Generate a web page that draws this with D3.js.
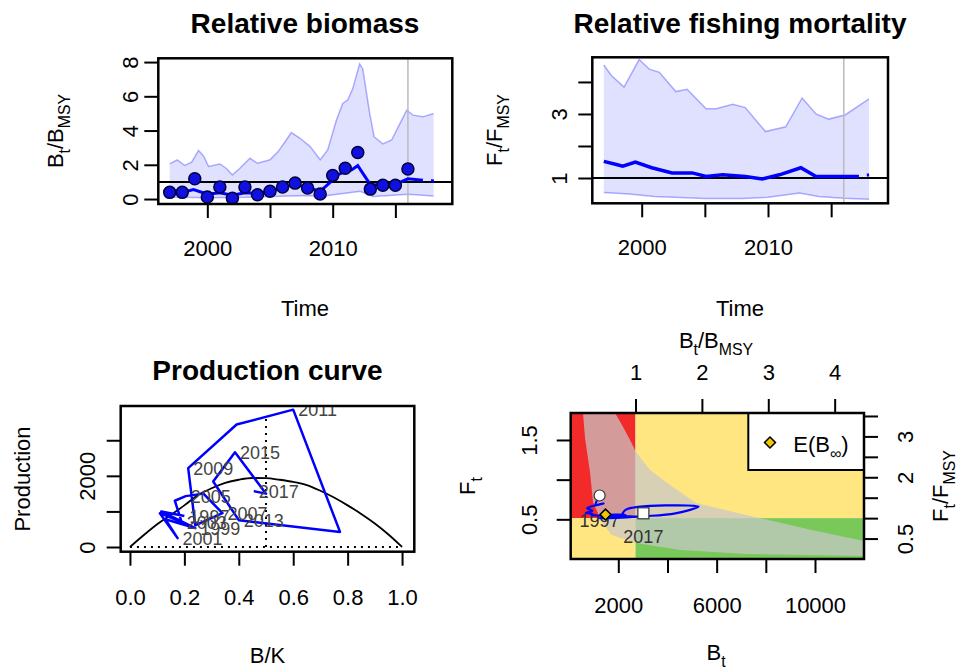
<!DOCTYPE html>
<html>
<head>
<meta charset="utf-8">
<script src="https://cdn.jsdelivr.net/npm/d3@7/dist/d3.min.js"></script>
<style>
body { margin: 0; background: #fff; }
</style>
</head>
<body>
<script>
// ---- data ----
var obsYears = [1997,1998,1999,2000,2001,2002,2003,2004,2005,2006,2007,2008,2009,2010,2011,2012,2013,2014,2015,2016];
var obsBB = [0.39,0.39,1.18,0.12,0.7,0.04,0.7,0.25,0.45,0.7,0.93,0.64,0.29,1.38,1.8,2.72,0.58,0.8,0.8,1.75];

var bbT   = [1997,1998,1998.9,2000,2001,2002,2003,2004,2005,2006,2007,2008,2009,2010,2010.5,2011,2011.5,2012,2012.5,2013,2014,2015,2016,2017.2];
var bbEst = [0.38,0.38,0.55,0.28,0.36,0.22,0.36,0.33,0.45,0.68,0.85,0.68,0.45,1.1,1.45,1.6,1.7,1.95,1.4,0.85,0.8,0.85,1.18,1.1];
var bbUpT = [1997,1997.6,1998.2,1998.75,1999.3,1999.7,2000.1,2001,2001.5,2002,2002.6,2003.4,2004,2005,2005.65,2006.3,2006.7,2007.4,2008.2,2009,2009.6,2010.3,2010.8,2011.2,2011.6,2012.15,2012.4,2012.95,2013.3,2014,2014.7,2015.3,2015.9,2016.4,2017.2,2018.05];
var bbUp  = [2.05,2.29,1.96,2.15,2.83,2.52,1.9,2.05,1.8,1.41,1.8,2.38,2.09,2.29,2.77,3.45,3.88,3.55,3.06,2.29,2.87,4.61,5.58,5.78,6.45,7.9,7.6,5.0,3.64,3.22,3.45,4.32,5.19,4.9,4.8,5.0];
var bbLoT = [1997,2000,2003,2005,2008,2009,2010.5,2012.2,2013.2,2014.5,2016,2018.05];
var bbLo  = [0.12,0.08,0.1,0.15,0.2,0.15,0.3,0.45,0.15,0.2,0.28,0.18];
var bbPredT = [2017.2, 2018.1];
var bbPred  = [1.1, 1.05];

var ffT   = [1997,1998,1998.5,1999.5,2000.8,2002.4,2004,2005.1,2006.4,2008.2,2009.55,2010.9,2012.6,2013.8,2017.2];
var ffEst = [1.52,1.42,1.37,1.5,1.32,1.16,1.16,1.05,1.1,1.05,0.97,1.1,1.32,1.05,1.05];
var ffUpT = [1997,1997.6,1998.6,1999.8,2000.6,2001.4,2002.7,2003.6,2005.1,2005.9,2007.2,2008.2,2009.8,2011.4,2012.7,2013.8,2014.8,2016.1,2018.0];
var ffUp  = [4.53,4.2,3.84,4.7,4.4,4.3,3.7,3.77,3.16,3.16,3.3,3.2,2.45,2.6,3.5,3.0,2.84,2.97,3.47];
var ffLoT = [1997,1999,2001,2005,2008,2010,2012.5,2014,2016,2018.0];
var ffLo  = [0.55,0.5,0.42,0.36,0.36,0.4,0.53,0.42,0.37,0.34];
var ffPredT = [2017.2, 2018.0];
var ffPred  = [1.05, 1.1];
var lastObs = 2016;

var curveBK = [0,0.05,0.1,0.15,0.2,0.25,0.3,0.35,0.4,0.45,0.5,0.55,0.6,0.65,0.7,0.75,0.8,0.85,0.9,0.95,1.0];
var curveP  = [0,330,640,900,1170,1460,1650,1800,1890,1940,1935,1890,1830,1740,1580,1390,1170,930,660,350,0];
var prodYears = [1997,1998,1999,2000,2001,2002,2003,2004,2005,2006,2007,2008,2009,2010,2011,2012,2013,2014,2015,2016,2017];
var prodBK = [0.20,0.115,0.24,0.13,0.175,0.11,0.19,0.165,0.205,0.27,0.34,0.24,0.214,0.392,0.60,0.772,0.40,0.306,0.386,0.50,0.455];
var prodP  = [870,1000,530,780,250,950,700,1300,1430,1500,950,610,2218,3443,3860,424,755,1840,2660,1500,1570];
var bmsyK = 0.5;

var Bmsy = 2700, Fmsy = 0.515;
var kobeYears = prodYears;
var kobeB = [1240,1080,1400,730,945,675,945,890,1215,1836,2295,1836,1215,3105,4320,5265,2295,2160,2295,3105,3020];
var kobeF = [0.80,0.68,0.70,0.64,0.61,0.58,0.57,0.56,0.545,0.56,0.555,0.54,0.514,0.54,0.576,0.66,0.62,0.54,0.54,0.545,0.576];
var eBinfB = 1480, eBinfF = 0.56;
var bandUpB = [1866,2150,2476,2720,3289,4102,5160,7193,9877,11992];
var bandUpF = [1.84,1.689,1.50,1.348,1.122,0.933,0.706,0.555,0.365,0.227];
var bandLoB = [564,646,849,971,1325,1731,2720,4509,7193,11992];
var bandLoF = [1.84,1.525,1.096,0.718,0.470,0.302,0.202,0.113,0.063,0.038];

// ---- setup ----
var FONT = "'Liberation Sans', Arial, Helvetica, sans-serif";
var svg = d3.select("body").append("svg").attr("width", 958).attr("height", 672)
  .style("font-family", FONT);
svg.append("rect").attr("width", 958).attr("height", 672).attr("fill", "#fff");

var TICK = 14, TS = 22;

function richText(g, x, y, parts, size, rot) {
  var t = g.append("text").attr("text-anchor", "middle").attr("font-size", size).attr("fill", "#000");
  if (rot) t.attr("transform", "translate(" + (x + 0.36 * size) + "," + y + ") rotate(-90)");
  else t.attr("transform", "translate(" + x + "," + (y + 0.36 * size) + ")");
  var down = false;
  parts.forEach(function(p) {
    var s = t.append("tspan").text(p[0]);
    if (p[1]) { s.attr("font-size", size * 0.72); if (!down) { s.attr("dy", size * 0.3); down = true; } }
    else if (down) { s.attr("dy", -size * 0.3); down = false; }
  });
  return t;
}

function clip(id, x0, x1, y0, y1) {
  svg.append("clipPath").attr("id", id).append("rect")
    .attr("x", x0).attr("y", y0).attr("width", x1 - x0).attr("height", y1 - y0);
  return svg.append("g").attr("clip-path", "url(#" + id + ")");
}

function styleAxis(ax) {
  ax.select(".domain").remove();
  ax.attr("font-size", TS).attr("font-family", FONT);
  ax.selectAll(".tick line").attr("stroke", "#000").attr("stroke-width", 2);
  ax.selectAll(".tick text").attr("fill", "#000");
}
function fmtOnly(list, f) {
  return function(d) { return list.indexOf(d) >= 0 ? (f ? f(d) : String(d)) : ""; };
}
function bottomAxis(scale, y, ticks, labels, f, off) {
  var ax = svg.append("g").attr("transform", "translate(0," + y + ")")
    .call(d3.axisBottom(scale).tickValues(ticks).tickSize(TICK).tickFormat(fmtOnly(labels, f)));
  styleAxis(ax);
  ax.selectAll(".tick text").attr("y", off).attr("dy", "0.36em");
}
function topAxis(scale, y, ticks, labels, off) {
  var ax = svg.append("g").attr("transform", "translate(0," + y + ")")
    .call(d3.axisTop(scale).tickValues(ticks).tickSize(TICK).tickFormat(fmtOnly(labels)));
  styleAxis(ax);
  ax.selectAll(".tick text").attr("y", -off).attr("dy", "0.36em");
}
function leftAxis(scale, x, ticks, labels, f, off) {
  var ax = svg.append("g").attr("transform", "translate(" + x + ",0)")
    .call(d3.axisLeft(scale).tickValues(ticks).tickSize(TICK).tickFormat(fmtOnly(labels, f)));
  styleAxis(ax);
  ax.selectAll(".tick text").attr("x", null).attr("dy", null).attr("text-anchor", "middle")
    .attr("transform", "translate(" + (-off + 0.36 * TS) + ",0) rotate(-90)");
}
function rightAxis(scale, x, ticks, labels, off) {
  var ax = svg.append("g").attr("transform", "translate(" + x + ",0)")
    .call(d3.axisRight(scale).tickValues(ticks).tickSize(TICK).tickFormat(fmtOnly(labels)));
  styleAxis(ax);
  ax.selectAll(".tick text").attr("x", null).attr("dy", null).attr("text-anchor", "middle")
    .attr("transform", "translate(" + (off + 0.36 * TS) + ",0) rotate(-90)");
}
function box(x0, x1, y0, y1) {
  svg.append("rect").attr("x", x0).attr("y", y0).attr("width", x1 - x0).attr("height", y1 - y0)
    .attr("fill", "none").attr("stroke", "#000").attr("stroke-width", 2.5);
}
function title(txt, x, y) {
  svg.append("text").attr("x", x).attr("y", y).attr("text-anchor", "middle")
    .attr("font-size", 28).attr("font-weight", "bold").text(txt);
}
function zipT(t, v) { return t.map(function(d, i) { return [d, v[i]]; }); }

var bandFill = "rgba(0,0,255,0.12)", bandLine = "rgba(0,0,255,0.3)";

// ---- panel 1: relative biomass ----
var p1 = {x0: 158.3, x1: 452.3, y0: 58.3, y1: 204};
var x1s = d3.scaleLinear().domain([1996.09, 2019.54]).range([p1.x0, p1.x1]);
var y1s = d3.scaleLinear().domain([-0.29, 8.22]).range([p1.y1, p1.y0]);
var g1 = clip("c1", p1.x0, p1.x1, p1.y0, p1.y1);
var line1 = d3.line().x(function(d) { return x1s(d[0]); }).y(function(d) { return y1s(d[1]); });
var up1 = zipT(bbUpT, bbUp), lo1 = zipT(bbLoT, bbLo);
g1.append("path").attr("d", line1(up1.concat(lo1.slice().reverse())) + "Z").attr("fill", bandFill);
g1.append("path").attr("d", line1(up1)).attr("fill", "none").attr("stroke", bandLine).attr("stroke-width", 1.5);
g1.append("path").attr("d", line1(lo1)).attr("fill", "none").attr("stroke", bandLine).attr("stroke-width", 1.5);
g1.append("line").attr("x1", x1s(lastObs)).attr("x2", x1s(lastObs)).attr("y1", p1.y0).attr("y2", p1.y1)
  .attr("stroke", "#bbb").attr("stroke-width", 1.5);
g1.append("line").attr("x1", p1.x0).attr("x2", p1.x1).attr("y1", y1s(1)).attr("y2", y1s(1))
  .attr("stroke", "#000").attr("stroke-width", 2);
g1.append("path").attr("d", line1(zipT(bbT, bbEst))).attr("fill", "none").attr("stroke", "#0000ff").attr("stroke-width", 3);
g1.append("path").attr("d", line1(zipT(bbPredT, bbPred))).attr("fill", "none").attr("stroke", "#0000ff")
  .attr("stroke-width", 3).attr("stroke-dasharray", "0,8,3,100");
g1.selectAll("circle.obs").data(obsYears).enter().append("circle")
  .attr("cx", function(d) { return x1s(d); })
  .attr("cy", function(d, i) { return y1s(obsBB[i]); })
  .attr("r", 6).attr("fill", "#1010e0").attr("stroke", "#000040").attr("stroke-width", 1.5);
box(p1.x0, p1.x1, p1.y0, p1.y1);
leftAxis(y1s, p1.x0, [0, 2, 4, 6, 8], [0, 2, 4, 6, 8], null, 28);
bottomAxis(x1s, p1.y1, [2000, 2005, 2010, 2015], [2000, 2010], null, 44);
title("Relative biomass", 305, 33);
richText(svg, 305, 308, [["Time"]], TS);
richText(svg, 55, 131, [["B"], ["t", 1], ["/"], ["B"], ["MSY", 1]], TS, true);

// ---- panel 2: relative fishing mortality ----
var p2 = {x0: 592.3, x1: 888, y0: 57.3, y1: 203.3};
var x2s = d3.scaleLinear().domain([1996.09, 2019.5]).range([p2.x0, p2.x1]);
var y2s = d3.scaleLinear().domain([0.21, 4.77]).range([p2.y1, p2.y0]);
var g2 = clip("c2", p2.x0, p2.x1, p2.y0, p2.y1);
var line2 = d3.line().x(function(d) { return x2s(d[0]); }).y(function(d) { return y2s(d[1]); });
var up2 = zipT(ffUpT, ffUp), lo2 = zipT(ffLoT, ffLo);
g2.append("path").attr("d", line2(up2.concat(lo2.slice().reverse())) + "Z").attr("fill", bandFill);
g2.append("path").attr("d", line2(up2)).attr("fill", "none").attr("stroke", bandLine).attr("stroke-width", 1.5);
g2.append("path").attr("d", line2(lo2)).attr("fill", "none").attr("stroke", bandLine).attr("stroke-width", 1.5);
g2.append("line").attr("x1", x2s(lastObs)).attr("x2", x2s(lastObs)).attr("y1", p2.y0).attr("y2", p2.y1)
  .attr("stroke", "#bbb").attr("stroke-width", 1.5);
g2.append("line").attr("x1", p2.x0).attr("x2", p2.x1).attr("y1", y2s(1)).attr("y2", y2s(1))
  .attr("stroke", "#000").attr("stroke-width", 2);
g2.append("path").attr("d", line2(zipT(ffT, ffEst))).attr("fill", "none").attr("stroke", "#0000ff").attr("stroke-width", 3.5);
g2.append("path").attr("d", line2(zipT(ffPredT, ffPred))).attr("fill", "none").attr("stroke", "#0000ff")
  .attr("stroke-width", 3).attr("stroke-dasharray", "0,8,3,100");
box(p2.x0, p2.x1, p2.y0, p2.y1);
leftAxis(y2s, p2.x0, [1, 2, 3, 4], [1, 3], null, 33);
bottomAxis(x2s, p2.y1, [2000, 2005, 2010, 2015], [2000, 2010], null, 44);
title("Relative fishing mortality", 740, 33);
richText(svg, 740, 308, [["Time"]], TS);
richText(svg, 494, 130, [["F"], ["t", 1], ["/"], ["F"], ["MSY", 1]], TS, true);

// ---- panel 3: production curve ----
var p3 = {x0: 120.7, x1: 414.3, y0: 406, y1: 551.7};
var x3s = d3.scaleLinear().domain([-0.034, 1.045]).range([p3.x0, p3.x1]);
var y3s = d3.scaleLinear().domain([-132, 3963]).range([p3.y1, p3.y0]);
var g3 = clip("c3", p3.x0, p3.x1, p3.y0, p3.y1);
var line3 = d3.line().x(function(d) { return x3s(d[0]); }).y(function(d) { return y3s(d[1]); });
g3.append("path").attr("d", line3.curve(d3.curveMonotoneX)(zipT(curveBK, curveP)))
  .attr("fill", "none").attr("stroke", "#000").attr("stroke-width", 1.8);
line3.curve(d3.curveLinear);
g3.append("path").attr("d", line3([[0, 0], [1, 0]])).attr("stroke", "#000").attr("stroke-width", 2)
  .attr("stroke-dasharray", "2,5");
g3.append("path").attr("d", line3([[bmsyK, 0], [bmsyK, 3700]])).attr("stroke", "#000").attr("stroke-width", 2)
  .attr("stroke-dasharray", "2,5");
g3.append("path").attr("d", line3(zipT(prodBK, prodP))).attr("fill", "none").attr("stroke", "#0000ff")
  .attr("stroke-width", 2.5).attr("stroke-linejoin", "round");
g3.selectAll("text.yr").data(prodYears.filter(function(d) { return d % 2 === 1; })).enter().append("text")
  .attr("x", function(d) { return x3s(prodBK[prodYears.indexOf(d)]) + 5; })
  .attr("y", function(d) { return y3s(prodP[prodYears.indexOf(d)]); })
  .attr("dy", "0.36em").attr("font-size", 18).attr("fill", "#444").text(function(d) { return d; });
box(p3.x0, p3.x1, p3.y0, p3.y1);
leftAxis(y3s, p3.x0, [0, 1000, 2000, 3000], [0, 2000], null, 34);
bottomAxis(x3s, p3.y1, [0, 0.2, 0.4, 0.6, 0.8, 1.0], [0, 0.2, 0.4, 0.6, 0.8, 1.0], d3.format(".1f"), 45);
title("Production curve", 267.5, 380);
richText(svg, 267.5, 655, [["B/K"]], TS);
richText(svg, 22, 479, [["Production"]], TS, true);

// ---- panel 4: kobe plot ----
var p4 = {x0: 570.7, x1: 864, y0: 413, y1: 559};
var x4s = d3.scaleLinear().domain([64, 11993]).range([p4.x0, p4.x1]);
var y4s = d3.scaleLinear().domain([0, 1.84]).range([p4.y1, p4.y0]);
var x4r = d3.scaleLinear().domain([64 / Bmsy, 11993 / Bmsy]).range([p4.x0, p4.x1]);
var y4r = d3.scaleLinear().domain([0, 1.84 / Fmsy]).range([p4.y1, p4.y0]);
var g4 = clip("c4", p4.x0, p4.x1, p4.y0, p4.y1);
function zone(b0, b1, f0, f1, col) {
  g4.append("rect").attr("x", x4s(b0)).attr("width", x4s(b1) - x4s(b0))
    .attr("y", y4s(f1)).attr("height", y4s(f0) - y4s(f1)).attr("fill", col);
}
zone(0, Bmsy, Fmsy, 3, "#f22a2a");
zone(Bmsy, 14000, Fmsy, 3, "#ffe680");
zone(0, Bmsy, -1, Fmsy, "#ffe680");
zone(Bmsy, 14000, -1, Fmsy, "#78c85a");
var line4 = d3.line().x(function(d) { return x4s(d[0]); }).y(function(d) { return y4s(d[1]); });
var bandPts = zipT(bandUpB, bandUpF).concat(zipT(bandLoB, bandLoF).reverse());
g4.append("path").attr("d", line4(bandPts) + "Z").attr("fill", "rgb(200,200,200)").attr("fill-opacity", 0.72);
var k0 = 0, kN = kobeYears.length - 1;
g4.append("text").attr("x", x4s(kobeB[k0])).attr("y", y4s(kobeF[k0]) + 25).attr("dy", "0.36em")
  .attr("text-anchor", "middle").attr("font-size", 18).attr("fill", "#333").text(kobeYears[k0]);
g4.append("text").attr("x", x4s(kobeB[kN])).attr("y", y4s(kobeF[kN]) + 23).attr("dy", "0.36em")
  .attr("text-anchor", "middle").attr("font-size", 18).attr("fill", "#333").text(kobeYears[kN]);
g4.append("path").attr("d", line4.curve(d3.curveCatmullRom)(zipT(kobeB, kobeF))).attr("fill", "none")
  .attr("stroke", "#0000ff").attr("stroke-width", 2.2);
g4.append("circle").attr("cx", x4s(kobeB[k0])).attr("cy", y4s(kobeF[k0])).attr("r", 5.5)
  .attr("fill", "#fff").attr("stroke", "#333").attr("stroke-width", 1.2);
g4.append("rect").attr("x", x4s(kobeB[kN]) - 5.5).attr("y", y4s(kobeF[kN]) - 5.5).attr("width", 11).attr("height", 11)
  .attr("fill", "#fff").attr("stroke", "#333").attr("stroke-width", 1.2);
function diamond(g, cx, cy) {
  g.append("path").attr("d", d3.symbol().type(d3.symbolSquare).size(60)())
    .attr("transform", "translate(" + cx + "," + cy + ") rotate(45)")
    .attr("fill", "#f0c800").attr("stroke", "#000").attr("stroke-width", 1.5);
}
diamond(g4, x4s(eBinfB), y4s(eBinfF));
// legend
g4.append("rect").attr("x", 748.3).attr("y", p4.y0).attr("width", p4.x1 - 748.3).attr("height", 470 - p4.y0)
  .attr("fill", "#fff").attr("stroke", "#000").attr("stroke-width", 2);
diamond(svg, 770, 442.5);
richText(svg, 821, 444, [["E(B"], ["\u221E", 1], [")"]], TS);
box(p4.x0, p4.x1, p4.y0, p4.y1);
bottomAxis(x4s, p4.y1, [2000, 4000, 6000, 8000, 10000], [2000, 6000, 10000], null, 46);
topAxis(x4r, p4.y0, [1, 2, 3, 4], [1, 2, 3, 4], 41);
leftAxis(y4s, p4.x0, [0.5, 1.0, 1.5], [0.5, 1.5], d3.format(".1f"), 42);
rightAxis(y4r, p4.x1, [0.5, 1, 1.5, 2, 2.5, 3, 3.5], [0.5, 2, 3], 41);
richText(svg, 716, 652, [["B"], ["t", 1]], TS);
richText(svg, 716, 340, [["B"], ["t", 1], ["/"], ["B"], ["MSY", 1]], TS);
richText(svg, 467, 486, [["F"], ["t", 1]], TS, true);
richText(svg, 940, 486, [["F"], ["t", 1], ["/"], ["F"], ["MSY", 1]], TS, true);
</script>
</body>
</html>
